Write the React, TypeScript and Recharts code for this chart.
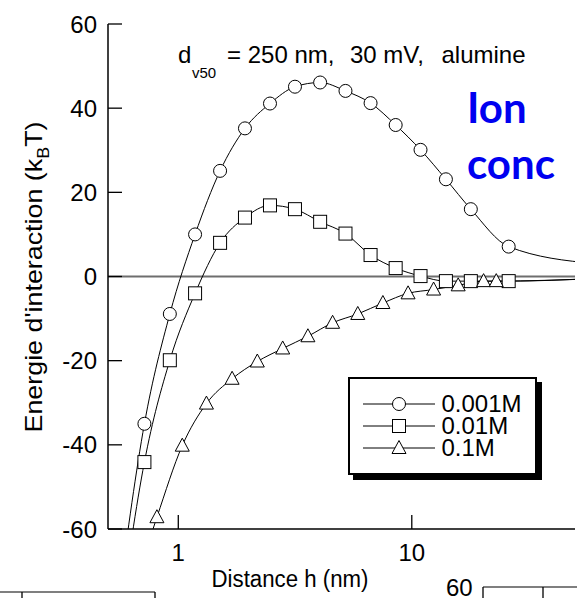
import React from "react";
import { LineChart, Line, XAxis, YAxis, ReferenceLine, Legend } from "recharts";

// distance h (nm) and interaction energy (kT)
const h001 = [0.56, 0.716, 0.92, 1.18, 1.51, 1.93, 2.47, 3.16, 4.05, 5.2, 6.66, 8.53, 10.9, 14.0, 17.9, 26.0, 60];
const e001 = [-75, -35, -8.9, 10, 25.1, 35.2, 41.1, 45.1, 46.1, 44.1, 41.2, 36.0, 30.1, 23.1, 16.0, 7.1, 3.1];

const h01 = [0.56, 0.716, 0.92, 1.18, 1.51, 1.93, 2.47, 3.16, 4.05, 5.2, 6.66, 8.53, 10.9, 14.0, 17.9, 26.0, 60];
const e01 = [-82, -44.1, -19.9, -4.0, 8.0, 14.0, 16.9, 16.0, 13.0, 10.2, 5.1, 2.0, 0.1, -1.1, -1.1, -1.1, -0.5];

const h1 = [0.63, 0.81, 1.04, 1.32, 1.7, 2.18, 2.8, 3.59, 4.58, 5.87, 7.52, 9.64, 12.4, 15.8, 20.3, 23.0, 60];
const e1 = [-76, -57.2, -40.2, -30.2, -24.3, -20.2, -17.1, -14.2, -11.0, -8.9, -6.3, -4.0, -3.1, -2.1, -1.1, -1.1, -0.5];

const seriesNames = ["0.001M", "0.01M", "0.1M"];
const markerKinds = ["circle", "square", "triangle"];
const xTicks = [1, 10];
const yTicks = [-60, -40, -20, 0, 20, 40, 60];

const FONT = '"Liberation Sans", Arial, Helvetica, sans-serif';

const toPoints = (xs: number[], ys: number[]) => xs.map((x, i) => ({ x, y: ys[i] }));

function Marker({ kind, cx, cy }: { kind: string; cx: number; cy: number }) {
  if (kind === "circle") return <circle cx={cx} cy={cy} r={6.5} fill="#fff" stroke="#000" strokeWidth={1} />;
  if (kind === "square")
    return <rect x={cx - 6.5} y={cy - 6.5} width={13} height={13} fill="#fff" stroke="#000" strokeWidth={1} />;
  return (
    <polygon
      points={`${cx},${cy - 7.5} ${cx - 7},${cy + 5.5} ${cx + 7},${cy + 5.5}`}
      fill="#fff"
      stroke="#000"
      strokeWidth={1}
    />
  );
}

const dotFor = (kind: string) => (p: any) => {
  const k = `${kind}-${p.index}`;
  if (p.cx == null || p.cy == null) return <g key={k} />;
  return <Marker key={k} kind={kind} cx={p.cx} cy={p.cy} />;
};

const LeftTick = (p: any) => (
  <g>
    <line x1={p.x} x2={p.x + 14} y1={p.y} y2={p.y} stroke="#000" strokeWidth={1.3} />
    <text x={p.x - 11} y={p.y + 8.5} textAnchor="end" fontSize={24} fontFamily={FONT} fill="#000">
      {p.payload.value}
    </text>
  </g>
);

const RightTick = (p: any) => (
  <line x1={p.x} x2={p.x - 14} y1={p.y} y2={p.y} stroke="#000" strokeWidth={1.3} />
);

const BottomTick = (p: any) => (
  <g>
    <line x1={p.x} x2={p.x} y1={p.y} y2={p.y - 14} stroke="#000" strokeWidth={1.3} />
    <text x={p.x} y={p.y + 32} textAnchor="middle" fontSize={24} fontFamily={FONT} fill="#000">
      {p.payload.value}
    </text>
  </g>
);

const TopTick = (p: any) => (
  <line x1={p.x} x2={p.x} y1={p.y} y2={p.y + 14} stroke="#000" strokeWidth={1.3} />
);

function LegendBox() {
  return (
    <div
      style={{
        width: 189,
        height: 98,
        boxSizing: "border-box",
        border: "2.5px solid #000",
        boxShadow: "5px 5px 0 #000",
        background: "#fff",
        display: "flex",
        flexDirection: "column",
        justifyContent: "center",
        paddingLeft: 12.5,
      }}
    >
      {seriesNames.map((name, i) => (
        <div key={name} style={{ display: "flex", alignItems: "center", height: 22 }}>
          <svg width={72} height={22} style={{ display: "block" }}>
            <line x1={0} x2={72} y1={11} y2={11} stroke="#000" strokeWidth={1} />
            <Marker kind={markerKinds[i]} cx={36} cy={11} />
          </svg>
          <span
            style={{
              marginLeft: 7,
              fontFamily: FONT,
              fontSize: 24,
              lineHeight: "22px",
              color: "#000",
            }}
          >
            {name}
          </span>
        </div>
      ))}
    </div>
  );
}

const axisLine = { stroke: "#000", strokeWidth: 1.5 };

export default function App() {
  const series = [toPoints(h001, e001), toPoints(h01, e01), toPoints(h1, e1)];
  return (
    <div style={{ position: "absolute", left: 0, top: 0, width: 577, height: 598, background: "#fff" }}>
      <LineChart width={577} height={598} margin={{ top: 24, right: 2, left: 0, bottom: 0 }}>
        <XAxis
          xAxisId="b"
          type="number"
          dataKey="x"
          scale="log"
          domain={[0.5, 50]}
          allowDataOverflow
          ticks={xTicks}
          interval={0}
          height={69}
          tickSize={0}
          tickMargin={0}
          tickLine={false}
          tick={<BottomTick />}
          axisLine={axisLine}
        />
        <XAxis
          xAxisId="t"
          orientation="top"
          type="number"
          dataKey="x"
          scale="log"
          domain={[0.5, 50]}
          allowDataOverflow
          ticks={xTicks}
          interval={0}
          height={0}
          tickSize={0}
          tickMargin={0}
          tickLine={false}
          tick={<TopTick />}
          axisLine={axisLine}
        />
        <YAxis
          yAxisId="l"
          type="number"
          domain={[-60, 60]}
          allowDataOverflow
          ticks={yTicks}
          interval={0}
          width={108}
          tickSize={0}
          tickMargin={0}
          tickLine={false}
          tick={<LeftTick />}
          axisLine={axisLine}
        />
        <YAxis
          yAxisId="r"
          orientation="right"
          type="number"
          domain={[-60, 60]}
          allowDataOverflow
          ticks={yTicks}
          interval={0}
          width={0}
          tickSize={0}
          tickMargin={0}
          tickLine={false}
          tick={<RightTick />}
          axisLine={axisLine}
        />
        <ReferenceLine xAxisId="b" yAxisId="l" y={0} stroke="#6e6e6e" strokeWidth={1.8} />
        {series.map((pts, i) => (
          <Line
            key={seriesNames[i]}
            xAxisId="b"
            yAxisId="l"
            data={pts}
            dataKey="y"
            name={seriesNames[i]}
            type="monotone"
            stroke="#000"
            strokeWidth={1}
            dot={dotFor(markerKinds[i])}
            activeDot={false}
            isAnimationActive={false}
          />
        ))}
        <Legend
          layout="vertical"
          align="center"
          verticalAlign="middle"
          content={() => <LegendBox />}
          wrapperStyle={{ left: 348, top: 377, width: 189, height: 98 }}
        />
      </LineChart>

      <svg
        width={577}
        height={598}
        style={{ position: "absolute", left: 0, top: 0, pointerEvents: "none" }}
        fontFamily={FONT}
      >
        {/* title */}
        <text x={178} y={63} fontSize={24} fill="#000">d</text>
        <text x={192} y={78} fontSize={15} fill="#000">v50</text>
        <text x={227} y={63} fontSize={24} fill="#000">= 250 nm,</text>
        <text x={350} y={63} fontSize={24} fill="#000">30 mV,</text>
        <text x={441.5} y={63} fontSize={24} fill="#000">alumine</text>

        <text x={467} y={123} fontSize={42} fontWeight={700} fontFamily="Lato, 'Open Sans', sans-serif" fill="#0000f0">
          Ion
        </text>
        <text x={467} y={179} fontSize={42} fontWeight={700} fontFamily="Lato, 'Open Sans', sans-serif" fill="#0000f0">
          conc
        </text>

        {/* axis titles */}
        <text
          x={41.5}
          y={277}
          transform="rotate(-90 41.5 277)"
          textAnchor="middle"
          fontSize={24}
          fill="#000"
          textLength={311}
          lengthAdjust="spacingAndGlyphs"
        >
          Energie d'interaction (k<tspan dy={7} fontSize={16}>B</tspan>
          <tspan dy={-7}>T)</tspan>
        </text>
        <text
          x={290}
          y={587}
          textAnchor="middle"
          fontSize={23}
          fill="#000"
          textLength={157}
          lengthAdjust="spacingAndGlyphs"
        >
          Distance h (nm)
        </text>

        {/* edges of the neighbouring panels */}
        <line x1={0} x2={155} y1={592} y2={592} stroke="#555" strokeWidth={1.5} />
        <line x1={22} x2={22} y1={592} y2={598} stroke="#000" strokeWidth={1.3} />
        <line x1={155} x2={155} y1={592} y2={598} stroke="#000" strokeWidth={1.3} />
        <text x={446} y={596} fontSize={24} fill="#000">60</text>
        <line x1={483} x2={577} y1={587} y2={587} stroke="#555" strokeWidth={1.5} />
        <line x1={483} x2={483} y1={587} y2={598} stroke="#000" strokeWidth={1.3} />
        <line x1={543} x2={543} y1={587} y2={598} stroke="#000" strokeWidth={1.3} />
      </svg>
    </div>
  );
}
